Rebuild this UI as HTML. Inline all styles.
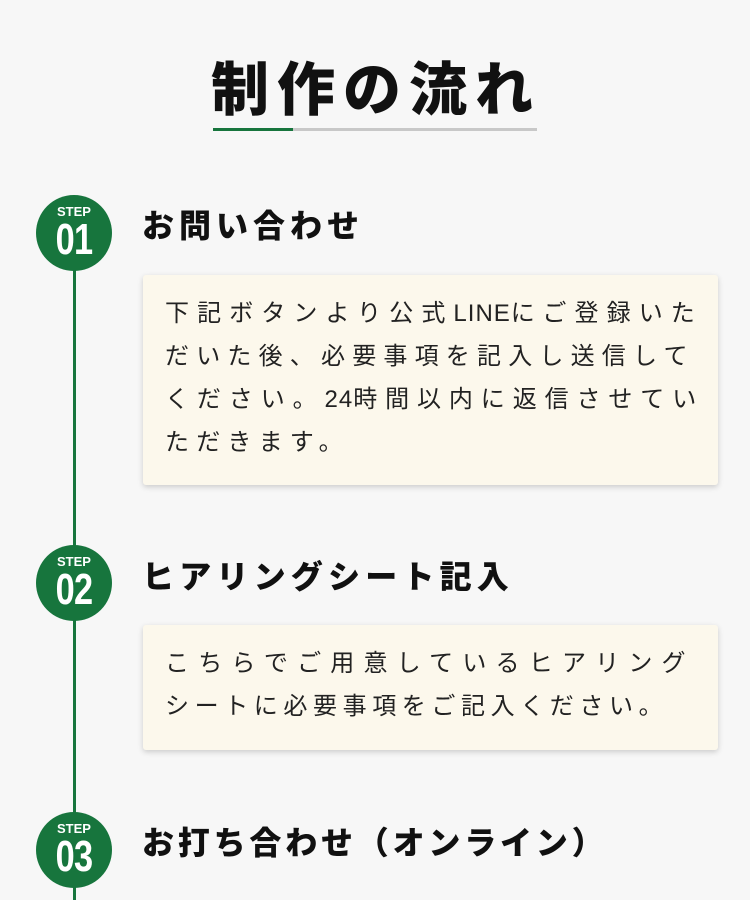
<!DOCTYPE html>
<html><head><meta charset="utf-8"><style>
html,body{margin:0;padding:0}
body{width:750px;height:891px;overflow:hidden;background:#f7f7f7;position:relative;font-family:"Liberation Sans","Noto Sans CJK JP",sans-serif;color:#111}
.title{position:absolute;left:204px;top:56px;width:344px;text-align:center;font-size:58px;font-weight:900;letter-spacing:8px;line-height:70px;white-space:nowrap}
.ul{position:absolute;top:128px;height:3px}
.line{position:absolute;left:72.5px;top:240px;width:3px;height:660px;background:#17753d}
.circ{position:absolute;left:36px;width:76px;height:76px;border-radius:50%;background:#17753d;color:#fff;text-align:center}
.circ .s{position:absolute;top:10px;width:100%;font-size:13px;font-weight:bold;line-height:13px}
.circ .n{position:absolute;top:22px;width:100%;font-size:44px;font-weight:bold;line-height:46px;transform:scaleX(.78);letter-spacing:-1px}
.h{position:absolute;left:142px;font-size:32px;font-weight:900;letter-spacing:5px;white-space:nowrap;line-height:40px}
.box{position:absolute;left:143px;width:575px;background:#fcf8ec;box-shadow:0 2px 6px rgba(0,0,0,.18);border-radius:3px}
.box p{margin:0;position:absolute;left:22px;top:17px;font-size:24px;letter-spacing:7.2px;line-height:43px;white-space:nowrap;color:#222}
.l{letter-spacing:1px}
</style></head><body>
<div class="title">制作の流れ</div>
<div class="ul" style="left:213px;width:80px;background:#17753d"></div>
<div class="ul" style="left:293px;width:244px;background:#c8c8c8"></div>
<div class="line"></div>
<div class="circ" style="top:195px"><div class="s">STEP</div><div class="n">01</div></div>
<div class="circ" style="top:545px"><div class="s">STEP</div><div class="n">02</div></div>
<div class="circ" style="top:812px"><div class="s">STEP</div><div class="n">03</div></div>
<div class="h" style="top:206px">お問い合わせ</div>
<div class="box" style="top:275px;height:210px"><p><span style="letter-spacing:8.1px">下記ボタンより公式<span class="l">LINE</span>にご登録いた</span><br>だいた後、必要事項を記入し送信して<br><span style="letter-spacing:7.9px">ください。<span class="l">24</span>時間以内に返信させてい</span><br>ただきます。</p></div>
<div class="h" style="top:557px;letter-spacing:5.2px">ヒアリングシート記入</div>
<div class="box" style="top:625px;height:125px"><p><span style="letter-spacing:9.2px">こちらでご用意しているヒアリング</span><br><span style="letter-spacing:5.6px">シートに必要事項をご記入ください。</span></p></div>
<div class="h" style="top:823px;letter-spacing:3.8px">お打ち合わせ（オンライン）</div>
</body></html>
